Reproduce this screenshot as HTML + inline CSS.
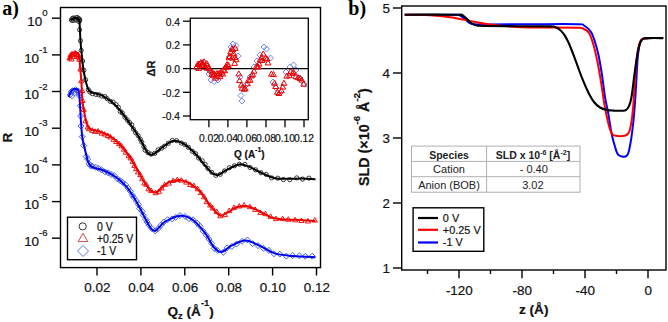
<!DOCTYPE html>
<html><head><meta charset="utf-8"><style>
html,body{margin:0;padding:0;background:#fff;}
body{width:668px;height:322px;overflow:hidden;font-family:"Liberation Sans", sans-serif;}
svg{display:block;}
</style></head><body>
<svg width="668" height="322" viewBox="0 0 668 322">
<rect width="668" height="322" fill="#fff"/>
<g fill="none" stroke="#000" stroke-width="1.4">
<rect x="60.5" y="7.5" width="260" height="260.1"/>
<line x1="52" y1="18.2" x2="60.5" y2="18.2"/>
<line x1="52" y1="54.9" x2="60.5" y2="54.9"/>
<line x1="52" y1="91.5" x2="60.5" y2="91.5"/>
<line x1="52" y1="128.2" x2="60.5" y2="128.2"/>
<line x1="52" y1="164.9" x2="60.5" y2="164.9"/>
<line x1="52" y1="201.6" x2="60.5" y2="201.6"/>
<line x1="52" y1="238.2" x2="60.5" y2="238.2"/>
<line x1="97.0" y1="267.6" x2="97.0" y2="275.5"/>
<line x1="140.9" y1="267.6" x2="140.9" y2="275.5"/>
<line x1="184.8" y1="267.6" x2="184.8" y2="275.5"/>
<line x1="228.7" y1="267.6" x2="228.7" y2="275.5"/>
<line x1="272.6" y1="267.6" x2="272.6" y2="275.5"/>
<line x1="316.5" y1="267.6" x2="316.5" y2="275.5"/>
</g>
<g font-family="'Liberation Sans', sans-serif" stroke="#111" stroke-width="0.2" fill="#111">
<text x="47.6" y="25.9" text-anchor="end" font-size="13.4">10<tspan font-size="9.6" dy="-9.6">0</tspan></text>
<text x="47.6" y="62.6" text-anchor="end" font-size="13.4">10<tspan font-size="9.6" dy="-9.6">-1</tspan></text>
<text x="47.6" y="99.2" text-anchor="end" font-size="13.4">10<tspan font-size="9.6" dy="-9.6">-2</tspan></text>
<text x="47.6" y="135.9" text-anchor="end" font-size="13.4">10<tspan font-size="9.6" dy="-9.6">-3</tspan></text>
<text x="47.6" y="172.6" text-anchor="end" font-size="13.4">10<tspan font-size="9.6" dy="-9.6">-4</tspan></text>
<text x="47.6" y="209.2" text-anchor="end" font-size="13.4">10<tspan font-size="9.6" dy="-9.6">-5</tspan></text>
<text x="47.6" y="245.9" text-anchor="end" font-size="13.4">10<tspan font-size="9.6" dy="-9.6">-6</tspan></text>
<text x="97.3" y="292.3" text-anchor="middle" font-size="13.4">0.02</text>
<text x="141.2" y="292.3" text-anchor="middle" font-size="13.4">0.04</text>
<text x="185.1" y="292.3" text-anchor="middle" font-size="13.4">0.06</text>
<text x="229.0" y="292.3" text-anchor="middle" font-size="13.4">0.08</text>
<text x="272.9" y="292.3" text-anchor="middle" font-size="13.4">0.10</text>
<text x="316.8" y="292.3" text-anchor="middle" font-size="13.4">0.12</text>
</g>
<g fill="none" stroke="#3050e0" stroke-width="0.9"><path d="M70.0 92.2L72.8 95.0L70.0 97.8L67.2 95.0Z"/><path d="M71.0 89.2L73.8 92.0L71.0 94.8L68.2 92.0Z"/><path d="M72.5 87.7L75.3 90.5L72.5 93.3L69.7 90.5Z"/><path d="M74.0 88.2L76.8 91.0L74.0 93.8L71.2 91.0Z"/><path d="M75.5 86.7L78.3 89.5L75.5 92.3L72.7 89.5Z"/><path d="M77.0 87.7L79.8 90.5L77.0 93.3L74.2 90.5Z"/><path d="M78.5 88.2L81.3 91.0L78.5 93.8L75.7 91.0Z"/><path d="M79.3 91.2L82.1 94.0L79.3 96.8L76.5 94.0Z"/><path d="M72.0 93.2L74.8 96.0L72.0 98.8L69.2 96.0Z"/><path d="M74.5 90.2L77.3 93.0L74.5 95.8L71.7 93.0Z"/><path d="M79.3 92.7L82.3 95.7L79.3 98.7L76.3 95.7Z"/><path d="M80.4 102.7L83.4 105.7L80.4 108.7L77.4 105.7Z"/><path d="M80.6 113.1L83.6 116.1L80.6 119.1L77.6 116.1Z"/><path d="M81.0 123.1L84.0 126.1L81.0 129.1L78.0 126.1Z"/><path d="M82.2 133.7L85.2 136.7L82.2 139.7L79.2 136.7Z"/><path d="M83.8 142.6L86.8 145.6L83.8 148.6L80.8 145.6Z"/><path d="M86.2 153.6L89.2 156.6L86.2 159.6L83.2 156.6Z"/><path d="M87.7 156.2L90.7 159.2L87.7 162.2L84.7 159.2Z"/><path d="M89.0 160.8L92.0 163.8L89.0 166.8L86.0 163.8Z"/><path d="M90.4 162.6L93.4 165.6L90.4 168.6L87.4 165.6Z"/><path d="M92.4 163.2L95.4 166.2L92.4 169.2L89.4 166.2Z"/><path d="M95.7 164.3L98.7 167.3L95.7 170.3L92.7 167.3Z"/><path d="M98.5 165.4L101.5 168.4L98.5 171.4L95.5 168.4Z"/><path d="M101.4 166.7L104.4 169.7L101.4 172.7L98.4 169.7Z"/><path d="M105.0 168.8L108.0 171.8L105.0 174.8L102.0 171.8Z"/><path d="M108.2 169.9L111.2 172.9L108.2 175.9L105.2 172.9Z"/><path d="M111.2 171.5L114.2 174.5L111.2 177.5L108.2 174.5Z"/><path d="M114.2 172.5L117.2 175.5L114.2 178.5L111.2 175.5Z"/><path d="M117.6 176.0L120.6 179.0L117.6 182.0L114.6 179.0Z"/><path d="M120.3 177.8L123.3 180.8L120.3 183.8L117.3 180.8Z"/><path d="M122.6 179.3L125.6 182.3L122.6 185.3L119.6 182.3Z"/><path d="M125.3 181.6L128.3 184.6L125.3 187.6L122.3 184.6Z"/><path d="M128.1 185.1L131.1 188.1L128.1 191.1L125.1 188.1Z"/><path d="M130.4 188.2L133.4 191.2L130.4 194.2L127.4 191.2Z"/><path d="M132.5 192.2L135.5 195.2L132.5 198.2L129.5 195.2Z"/><path d="M133.7 194.3L136.7 197.3L133.7 200.3L130.7 197.3Z"/><path d="M136.4 198.0L139.4 201.0L136.4 204.0L133.4 201.0Z"/><path d="M138.4 201.5L141.4 204.5L138.4 207.5L135.4 204.5Z"/><path d="M139.6 205.5L142.6 208.5L139.6 211.5L136.6 208.5Z"/><path d="M142.1 208.4L145.1 211.4L142.1 214.4L139.1 211.4Z"/><path d="M143.4 212.2L146.4 215.2L143.4 218.2L140.4 215.2Z"/><path d="M145.9 216.6L148.9 219.6L145.9 222.6L142.9 219.6Z"/><path d="M147.0 219.1L150.0 222.1L147.0 225.1L144.0 222.1Z"/><path d="M148.9 222.1L151.9 225.1L148.9 228.1L145.9 225.1Z"/><path d="M151.9 225.6L154.9 228.6L151.9 231.6L148.9 228.6Z"/><path d="M155.2 227.9L158.2 230.9L155.2 233.9L152.2 230.9Z"/><path d="M158.0 225.7L161.0 228.7L158.0 231.7L155.0 228.7Z"/><path d="M160.8 222.4L163.8 225.4L160.8 228.4L157.8 225.4Z"/><path d="M163.8 219.1L166.8 222.1L163.8 225.1L160.8 222.1Z"/><path d="M167.6 216.7L170.6 219.7L167.6 222.7L164.6 219.7Z"/><path d="M172.0 215.9L175.0 218.9L172.0 221.9L169.0 218.9Z"/><path d="M175.7 214.4L178.7 217.4L175.7 220.4L172.7 217.4Z"/><path d="M179.9 212.5L182.9 215.5L179.9 218.5L176.9 215.5Z"/><path d="M185.1 213.4L188.1 216.4L185.1 219.4L182.1 216.4Z"/><path d="M188.9 215.7L191.9 218.7L188.9 221.7L185.9 218.7Z"/><path d="M193.1 216.8L196.1 219.8L193.1 222.8L190.1 219.8Z"/><path d="M197.2 220.2L200.2 223.2L197.2 226.2L194.2 223.2Z"/><path d="M200.1 223.3L203.1 226.3L200.1 229.3L197.1 226.3Z"/><path d="M203.2 228.2L206.2 231.2L203.2 234.2L200.2 231.2Z"/><path d="M206.3 232.2L209.3 235.2L206.3 238.2L203.3 235.2Z"/><path d="M208.9 236.1L211.9 239.1L208.9 242.1L205.9 239.1Z"/><path d="M211.7 240.4L214.7 243.4L211.7 246.4L208.7 243.4Z"/><path d="M214.2 245.4L217.2 248.4L214.2 251.4L211.2 248.4Z"/><path d="M217.6 247.4L220.6 250.4L217.6 253.4L214.6 250.4Z"/><path d="M223.2 249.3L226.2 252.3L223.2 255.3L220.2 252.3Z"/><path d="M227.0 244.9L230.0 247.9L227.0 250.9L224.0 247.9Z"/><path d="M231.9 243.4L234.9 246.4L231.9 249.4L228.9 246.4Z"/><path d="M236.5 241.0L239.5 244.0L236.5 247.0L233.5 244.0Z"/><path d="M242.1 238.3L245.1 241.3L242.1 244.3L239.1 241.3Z"/><path d="M247.4 237.0L250.4 240.0L247.4 243.0L244.4 240.0Z"/><path d="M252.6 240.6L255.6 243.6L252.6 246.6L249.6 243.6Z"/><path d="M258.1 242.6L261.1 245.6L258.1 248.6L255.1 245.6Z"/><path d="M263.3 245.4L266.3 248.4L263.3 251.4L260.3 248.4Z"/><path d="M268.8 247.4L271.8 250.4L268.8 253.4L265.8 250.4Z"/><path d="M274.0 250.7L277.0 253.7L274.0 256.7L271.0 253.7Z"/><path d="M279.8 251.1L282.8 254.1L279.8 257.1L276.8 254.1Z"/><path d="M286.3 253.1L289.3 256.1L286.3 259.1L283.3 256.1Z"/><path d="M292.6 252.5L295.6 255.5L292.6 258.5L289.6 255.5Z"/><path d="M299.4 252.8L302.4 255.8L299.4 258.8L296.4 255.8Z"/><path d="M305.3 253.3L308.3 256.3L305.3 259.3L302.3 256.3Z"/><path d="M312.2 253.2L315.2 256.2L312.2 259.2L309.2 256.2Z"/></g>
<path d="M68.8 97.0C69.0 96.3 69.4 94.2 70.0 93.0C70.6 91.8 71.6 90.2 72.5 89.5C73.4 88.8 74.5 88.8 75.5 89.0C76.5 89.2 77.6 89.2 78.3 90.5C79.0 91.8 79.2 93.8 79.5 97.0C79.8 100.2 80.0 105.3 80.3 110.0C80.6 114.7 80.8 120.3 81.2 125.0C81.6 129.7 81.7 133.7 82.4 138.0C83.1 142.3 84.4 147.2 85.3 151.0C86.2 154.8 87.1 158.5 87.8 160.8C88.5 163.1 88.8 163.6 89.6 164.6C90.3 165.6 91.2 166.4 92.3 167.0C93.4 167.6 94.4 167.8 96.0 168.3C97.6 168.8 99.1 168.7 101.8 169.8C104.5 170.9 109.4 173.1 112.4 174.8C115.4 176.5 117.3 178.1 119.8 180.2C122.3 182.3 124.8 184.5 127.3 187.6C129.8 190.7 132.2 194.7 134.7 198.8C137.2 203.0 140.1 208.6 142.2 212.5C144.2 216.4 145.5 219.3 147.0 222.0C148.5 224.7 149.7 227.0 151.0 228.5C152.3 230.0 153.7 231.2 155.0 231.0C156.3 230.8 157.3 229.1 159.0 227.5C160.7 225.9 161.7 223.5 165.3 221.5C168.9 219.5 175.8 215.9 180.5 215.7C185.2 215.5 189.1 217.2 193.3 220.3C197.6 223.4 202.6 229.9 206.0 234.3C209.4 238.8 211.0 244.0 213.6 247.0C216.2 250.0 218.3 252.3 221.3 252.1C224.3 251.9 227.4 247.6 231.4 245.7C235.4 243.8 240.7 240.6 245.4 240.6C250.1 240.6 254.5 243.6 259.4 245.7C264.3 247.8 269.2 251.7 274.7 253.4C280.2 255.1 285.7 255.3 292.5 255.9C299.3 256.5 311.6 257.0 315.4 257.2" fill="none" stroke="#0000f0" stroke-width="2"/>
<g fill="none" stroke="#f00000" stroke-width="0.9"><path d="M69.5 55.4L72.1 60.0L66.9 60.0Z"/><path d="M70.5 52.4L73.1 57.0L67.9 57.0Z"/><path d="M72.0 51.4L74.6 56.0L69.4 56.0Z"/><path d="M73.5 51.9L76.1 56.5L70.9 56.5Z"/><path d="M75.0 50.4L77.6 55.0L72.4 55.0Z"/><path d="M76.5 51.4L79.1 56.0L73.9 56.0Z"/><path d="M78.0 51.9L80.6 56.5L75.4 56.5Z"/><path d="M79.0 54.4L81.6 59.0L76.4 59.0Z"/><path d="M71.5 56.4L74.1 61.0L68.9 61.0Z"/><path d="M74.0 53.9L76.6 58.5L71.4 58.5Z"/><path d="M77.0 53.4L79.6 58.0L74.4 58.0Z"/><path d="M79.2 56.7L81.8 61.2L76.6 61.2Z"/><path d="M80.4 66.4L83.0 71.0L77.8 71.0Z"/><path d="M81.2 78.2L83.8 82.7L78.6 82.7Z"/><path d="M82.2 88.0L84.8 92.5L79.6 92.5Z"/><path d="M82.6 98.0L85.2 102.5L80.0 102.5Z"/><path d="M83.6 106.8L86.2 111.4L81.0 111.4Z"/><path d="M85.4 118.4L88.0 122.9L82.8 122.9Z"/><path d="M87.8 124.4L90.4 129.0L85.2 129.0Z"/><path d="M89.1 126.2L91.7 130.7L86.5 130.7Z"/><path d="M92.2 127.7L94.8 132.3L89.6 132.3Z"/><path d="M95.1 128.8L97.7 133.4L92.5 133.4Z"/><path d="M98.1 128.6L100.7 133.2L95.5 133.2Z"/><path d="M101.6 130.6L104.2 135.1L99.0 135.1Z"/><path d="M104.6 131.5L107.2 136.0L102.0 136.0Z"/><path d="M107.8 133.0L110.4 137.5L105.2 137.5Z"/><path d="M110.4 134.3L113.0 138.9L107.8 138.9Z"/><path d="M113.7 136.8L116.3 141.3L111.1 141.3Z"/><path d="M116.2 139.0L118.8 143.5L113.6 143.5Z"/><path d="M119.2 141.0L121.8 145.6L116.6 145.6Z"/><path d="M121.5 143.3L124.1 147.9L118.9 147.9Z"/><path d="M123.8 146.6L126.4 151.1L121.2 151.1Z"/><path d="M125.7 149.6L128.3 154.2L123.1 154.2Z"/><path d="M128.6 153.1L131.2 157.7L126.0 157.7Z"/><path d="M130.6 155.3L133.2 159.9L128.0 159.9Z"/><path d="M132.6 158.9L135.2 163.4L130.0 163.4Z"/><path d="M134.4 162.8L137.0 167.4L131.8 167.4Z"/><path d="M136.0 166.0L138.6 170.6L133.4 170.6Z"/><path d="M138.0 169.3L140.6 173.8L135.4 173.8Z"/><path d="M140.2 172.0L142.8 176.6L137.6 176.6Z"/><path d="M142.3 176.1L144.9 180.7L139.7 180.7Z"/><path d="M144.3 180.3L146.9 184.8L141.7 184.8Z"/><path d="M146.2 181.7L148.8 186.3L143.6 186.3Z"/><path d="M148.5 186.2L151.1 190.8L145.9 190.8Z"/><path d="M151.2 188.1L153.8 192.6L148.6 192.6Z"/><path d="M155.7 190.1L158.3 194.7L153.1 194.7Z"/><path d="M158.9 188.8L161.5 193.3L156.3 193.3Z"/><path d="M161.7 185.4L164.3 190.0L159.1 190.0Z"/><path d="M164.7 182.1L167.3 186.6L162.1 186.6Z"/><path d="M168.8 180.6L171.4 185.1L166.2 185.1Z"/><path d="M173.1 178.0L175.7 182.5L170.5 182.5Z"/><path d="M177.3 177.0L179.9 181.5L174.7 181.5Z"/><path d="M181.3 177.6L183.9 182.1L178.7 182.1Z"/><path d="M186.2 179.6L188.8 184.1L183.6 184.1Z"/><path d="M190.2 181.9L192.8 186.5L187.6 186.5Z"/><path d="M193.8 183.0L196.4 187.6L191.2 187.6Z"/><path d="M197.7 186.2L200.3 190.8L195.1 190.8Z"/><path d="M200.9 190.1L203.5 194.6L198.3 194.6Z"/><path d="M204.1 194.3L206.7 198.8L201.5 198.8Z"/><path d="M206.6 199.1L209.2 203.7L204.0 203.7Z"/><path d="M210.1 202.5L212.7 207.0L207.5 207.0Z"/><path d="M212.6 205.4L215.2 209.9L210.0 209.9Z"/><path d="M216.7 209.0L219.3 213.5L214.1 213.5Z"/><path d="M220.3 213.3L222.9 217.8L217.7 217.8Z"/><path d="M224.9 212.0L227.5 216.6L222.3 216.6Z"/><path d="M229.2 208.0L231.8 212.6L226.6 212.6Z"/><path d="M234.0 204.9L236.6 209.4L231.4 209.4Z"/><path d="M239.3 203.5L241.9 208.0L236.7 208.0Z"/><path d="M244.1 202.5L246.7 207.1L241.5 207.1Z"/><path d="M249.9 204.2L252.5 208.7L247.3 208.7Z"/><path d="M255.1 206.8L257.7 211.4L252.5 211.4Z"/><path d="M260.4 210.0L263.0 214.6L257.8 214.6Z"/><path d="M265.5 211.2L268.1 215.7L262.9 215.7Z"/><path d="M270.6 213.8L273.2 218.3L268.0 218.3Z"/><path d="M276.0 216.1L278.6 220.6L273.4 220.6Z"/><path d="M282.6 216.1L285.2 220.6L280.0 220.6Z"/><path d="M288.3 216.7L290.9 221.3L285.7 221.3Z"/><path d="M295.1 217.3L297.7 221.8L292.5 221.8Z"/><path d="M301.4 218.0L304.0 222.5L298.8 222.5Z"/><path d="M307.9 218.4L310.5 223.0L305.3 223.0Z"/><path d="M314.8 217.5L317.4 222.1L312.2 222.1Z"/></g>
<path d="M68.8 60.0C69.0 59.3 69.4 57.2 70.0 56.0C70.6 54.8 71.6 53.6 72.5 53.0C73.4 52.4 74.5 52.4 75.5 52.6C76.5 52.8 77.6 52.8 78.3 54.0C79.0 55.2 79.1 57.0 79.5 60.0C79.9 63.0 80.2 68.7 80.5 72.0C80.8 75.3 81.0 75.3 81.3 80.0C81.6 84.7 81.9 94.5 82.4 100.0C82.9 105.5 83.8 109.7 84.4 113.0C85.0 116.3 85.3 118.0 85.8 120.0C86.3 122.0 86.6 123.6 87.2 125.0C87.8 126.4 88.4 127.5 89.2 128.3C90.0 129.1 90.5 129.4 92.0 129.8C93.5 130.2 96.0 130.4 98.0 131.0C100.0 131.6 102.0 132.7 104.0 133.5C106.0 134.3 107.2 134.3 109.9 136.1C112.6 137.9 116.6 141.0 119.9 144.5C123.2 148.0 126.9 153.0 129.8 157.2C132.7 161.4 134.9 165.7 137.2 169.6C139.5 173.5 141.3 177.5 143.4 180.8C145.5 184.1 148.0 187.7 149.6 189.6C151.2 191.5 151.8 191.6 153.0 192.0C154.2 192.4 155.3 192.6 156.5 192.2C157.7 191.8 158.8 190.7 160.0 189.6C161.2 188.5 162.4 186.9 164.0 185.6C165.6 184.3 167.3 182.8 169.8 181.8C172.3 180.9 176.0 179.8 179.1 179.9C182.2 180.1 185.0 180.8 188.4 182.7C191.8 184.6 196.2 187.5 199.6 191.1C203.0 194.7 206.1 200.5 208.9 204.1C211.7 207.7 214.4 210.6 216.4 212.5C218.4 214.4 218.8 215.9 220.8 215.8C222.8 215.8 225.6 213.6 228.2 212.2C230.8 210.8 233.4 208.3 236.4 207.3C239.4 206.3 243.3 205.8 246.3 206.1C249.3 206.4 251.5 207.6 254.5 208.9C257.5 210.2 261.1 212.3 264.4 213.9C267.7 215.5 270.4 217.4 274.3 218.3C278.2 219.2 283.1 219.3 287.5 219.6C291.9 219.9 296.0 219.8 300.6 220.0C305.2 220.2 312.9 220.8 315.4 221.0" fill="none" stroke="#ee0000" stroke-width="2"/>
<g fill="none" stroke="#222" stroke-width="0.9"><circle cx="71.5" cy="20.0" r="2.2"/><circle cx="72.5" cy="18.5" r="2.2"/><circle cx="74.0" cy="18.0" r="2.2"/><circle cx="75.5" cy="19.0" r="2.2"/><circle cx="77.0" cy="17.5" r="2.2"/><circle cx="78.5" cy="18.5" r="2.2"/><circle cx="79.5" cy="19.5" r="2.2"/><circle cx="73.0" cy="20.5" r="2.2"/><circle cx="76.0" cy="20.0" r="2.2"/><circle cx="79.0" cy="21.5" r="2.2"/><circle cx="79.6" cy="20.3" r="2.1"/><circle cx="79.6" cy="29.8" r="2.1"/><circle cx="80.5" cy="40.8" r="2.1"/><circle cx="81.2" cy="50.4" r="2.1"/><circle cx="82.6" cy="61.0" r="2.1"/><circle cx="83.9" cy="70.3" r="2.1"/><circle cx="85.6" cy="79.8" r="2.1"/><circle cx="88.3" cy="89.7" r="2.1"/><circle cx="89.9" cy="92.0" r="2.1"/><circle cx="92.4" cy="93.7" r="2.1"/><circle cx="96.0" cy="94.4" r="2.1"/><circle cx="98.8" cy="94.8" r="2.1"/><circle cx="101.7" cy="96.1" r="2.1"/><circle cx="104.9" cy="96.6" r="2.1"/><circle cx="107.2" cy="98.7" r="2.1"/><circle cx="110.4" cy="101.4" r="2.1"/><circle cx="113.1" cy="102.1" r="2.1"/><circle cx="116.0" cy="104.6" r="2.1"/><circle cx="118.4" cy="107.4" r="2.1"/><circle cx="120.3" cy="111.4" r="2.1"/><circle cx="122.3" cy="113.0" r="2.1"/><circle cx="124.9" cy="117.1" r="2.1"/><circle cx="127.3" cy="120.0" r="2.1"/><circle cx="129.6" cy="122.6" r="2.1"/><circle cx="131.8" cy="124.9" r="2.1"/><circle cx="133.4" cy="129.0" r="2.1"/><circle cx="135.6" cy="132.7" r="2.1"/><circle cx="138.1" cy="135.6" r="2.1"/><circle cx="140.3" cy="139.1" r="2.1"/><circle cx="141.8" cy="142.2" r="2.1"/><circle cx="143.9" cy="146.7" r="2.1"/><circle cx="145.2" cy="150.2" r="2.1"/><circle cx="148.0" cy="152.7" r="2.1"/><circle cx="151.0" cy="154.1" r="2.1"/><circle cx="154.7" cy="153.4" r="2.1"/><circle cx="158.1" cy="149.9" r="2.1"/><circle cx="161.6" cy="148.2" r="2.1"/><circle cx="164.5" cy="146.2" r="2.1"/><circle cx="168.3" cy="143.3" r="2.1"/><circle cx="172.3" cy="140.4" r="2.1"/><circle cx="176.6" cy="140.7" r="2.1"/><circle cx="181.3" cy="143.1" r="2.1"/><circle cx="184.8" cy="144.6" r="2.1"/><circle cx="188.4" cy="147.4" r="2.1"/><circle cx="192.4" cy="151.4" r="2.1"/><circle cx="195.6" cy="153.7" r="2.1"/><circle cx="198.6" cy="158.0" r="2.1"/><circle cx="202.2" cy="160.8" r="2.1"/><circle cx="205.1" cy="164.3" r="2.1"/><circle cx="207.9" cy="168.5" r="2.1"/><circle cx="211.8" cy="172.3" r="2.1"/><circle cx="215.8" cy="175.3" r="2.1"/><circle cx="220.3" cy="174.3" r="2.1"/><circle cx="224.5" cy="170.9" r="2.1"/><circle cx="229.3" cy="167.7" r="2.1"/><circle cx="234.4" cy="165.8" r="2.1"/><circle cx="239.3" cy="164.2" r="2.1"/><circle cx="244.9" cy="164.4" r="2.1"/><circle cx="250.0" cy="167.5" r="2.1"/><circle cx="255.6" cy="169.8" r="2.1"/><circle cx="260.9" cy="172.7" r="2.1"/><circle cx="266.2" cy="174.4" r="2.1"/><circle cx="271.6" cy="177.9" r="2.1"/><circle cx="277.8" cy="178.2" r="2.1"/><circle cx="283.5" cy="179.6" r="2.1"/><circle cx="289.8" cy="179.7" r="2.1"/><circle cx="296.7" cy="177.9" r="2.1"/><circle cx="302.5" cy="179.1" r="2.1"/><circle cx="309.0" cy="178.1" r="2.1"/></g>
<path d="M71.0 20.5C71.2 20.2 71.8 19.2 72.5 18.8C73.2 18.4 74.2 18.1 75.0 18.0C75.8 17.9 76.8 17.9 77.5 18.2C78.2 18.5 78.8 18.5 79.2 19.6C79.6 20.7 79.5 21.6 79.7 25.0C79.9 28.4 80.1 35.0 80.4 40.0C80.8 45.0 81.3 50.3 81.8 55.0C82.3 59.7 82.6 64.0 83.2 68.0C83.8 72.0 84.5 75.9 85.2 79.0C85.9 82.1 86.6 84.6 87.2 86.5C87.8 88.4 88.2 89.3 88.8 90.3C89.4 91.3 89.8 91.9 91.0 92.4C92.2 93.0 94.4 93.1 96.2 93.6C98.0 94.1 99.6 94.2 101.8 95.3C104.0 96.4 106.7 98.2 109.2 100.0C111.7 101.8 114.2 103.8 116.7 106.4C119.2 109.0 121.6 112.4 124.1 115.7C126.6 119.0 128.8 122.0 131.6 126.0C134.3 130.0 138.3 136.0 140.6 139.9C142.9 143.8 144.0 147.1 145.3 149.3C146.6 151.6 147.3 152.5 148.3 153.4C149.3 154.3 150.2 154.7 151.3 154.7C152.4 154.7 153.4 154.2 154.8 153.3C156.2 152.5 157.8 150.9 159.5 149.6C161.2 148.3 162.4 147.0 164.8 145.5C167.2 144.0 171.0 141.1 174.1 140.8C177.2 140.5 180.0 141.6 183.4 143.6C186.8 145.6 191.2 149.6 194.6 153.0C198.0 156.4 201.3 161.0 203.9 164.1C206.5 167.2 208.7 169.8 210.4 171.5C212.1 173.2 212.8 173.6 214.0 174.2C215.2 174.8 216.3 175.3 217.5 175.2C218.7 175.1 219.8 174.3 221.0 173.6C222.2 172.9 221.8 172.4 224.8 170.9C227.8 169.4 234.9 165.0 239.1 164.4C243.3 163.8 246.0 165.6 249.9 167.1C253.8 168.6 258.3 171.6 262.5 173.4C266.7 175.2 270.5 177.3 275.0 178.2C279.5 179.1 284.9 178.6 289.4 178.7C293.9 178.8 297.6 178.5 302.0 178.6C306.4 178.7 313.2 179.2 315.5 179.3" fill="none" stroke="#000" stroke-width="2"/>
<rect x="67.5" y="217.2" width="69" height="42.5" fill="#fff" stroke="#000" stroke-width="1.4"/>
<circle cx="82.7" cy="226.4" r="3.6" fill="none" stroke="#333" stroke-width="1"/>
<path d="M83 233.2 L87.8 241.6 L78.2 241.6 Z" fill="none" stroke="#d04848" stroke-width="1"/>
<path d="M83 245.5 L88.5 251 L83 256.5 L77.5 251 Z" fill="none" stroke="#5a78d0" stroke-width="1"/>
<g font-family="'Liberation Sans', sans-serif" stroke="#111" stroke-width="0.2" fill="#111" font-size="12">
<text transform="translate(97 231) scale(0.87 1)">0 V</text>
<text transform="translate(97 242.6) scale(0.87 1)">+0.25 V</text>
<text transform="translate(97 254.6) scale(0.87 1)">-1 V</text>
</g>
<g font-family="'Liberation Sans', sans-serif" stroke="#111" stroke-width="0.2" fill="#111" font-weight="bold">
<text x="167.5" y="316" font-size="13.6">Q<tspan font-size="9.4" dy="2.5">z</tspan><tspan dy="-2.5"> (Å</tspan><tspan font-size="9.4" dy="-9.8">-1</tspan><tspan dy="9.8">)</tspan></text>
<text transform="translate(12 137.7) rotate(-90)" text-anchor="middle" font-size="13.6">R</text>
</g>
<text x="2.2" y="15.2" font-family="'Liberation Serif', serif" font-weight="bold" font-size="20">a)</text>
<rect x="190.3" y="18.2" width="118" height="101.5" fill="#fff" stroke="#000" stroke-width="1.3"/>
<g fill="none" stroke="#000" stroke-width="1.3">
<line x1="183" y1="21.2" x2="190.3" y2="21.2"/>
<line x1="183" y1="44.9" x2="190.3" y2="44.9"/>
<line x1="183" y1="68.6" x2="190.3" y2="68.6"/>
<line x1="183" y1="92.3" x2="190.3" y2="92.3"/>
<line x1="183" y1="116.0" x2="190.3" y2="116.0"/>
<line x1="208.9" y1="119.7" x2="208.9" y2="127.2"/>
<line x1="227.9" y1="119.7" x2="227.9" y2="127.2"/>
<line x1="246.9" y1="119.7" x2="246.9" y2="127.2"/>
<line x1="266.0" y1="119.7" x2="266.0" y2="127.2"/>
<line x1="285.0" y1="119.7" x2="285.0" y2="127.2"/>
<line x1="304.0" y1="119.7" x2="304.0" y2="127.2"/>
</g>
<g font-family="'Liberation Sans', sans-serif" stroke="#111" stroke-width="0.2" fill="#111" font-size="10.3">
<text x="180" y="25.5" text-anchor="end">0.4</text>
<text x="180" y="49.2" text-anchor="end">0.2</text>
<text x="180" y="72.9" text-anchor="end">0.0</text>
<text x="180" y="96.6" text-anchor="end">-0.2</text>
<text x="180" y="120.3" text-anchor="end">-0.4</text>
<text x="208.9" y="141.6" text-anchor="middle">0.02</text>
<text x="227.9" y="141.6" text-anchor="middle">0.04</text>
<text x="246.9" y="141.6" text-anchor="middle">0.06</text>
<text x="266.0" y="141.6" text-anchor="middle">0.08</text>
<text x="285.0" y="141.6" text-anchor="middle">0.10</text>
<text x="304.0" y="141.6" text-anchor="middle">0.12</text>
</g>
<g font-family="'Liberation Sans', sans-serif" stroke="#111" stroke-width="0.2" fill="#111" font-weight="bold" font-size="10">
<text x="234" y="158.2">Q (A<tspan font-size="7" dy="-6">-1</tspan><tspan dy="6">)</tspan></text>
<text transform="translate(154.6 68.5) rotate(-90)" text-anchor="middle" font-size="11">ΔR</text>
</g>
<g fill="none" stroke="#7888ee" stroke-width="1"><path d="M197.0 65.0L200.0 68.0L197.0 71.0L194.0 68.0Z"/><path d="M201.0 61.0L204.0 64.0L201.0 67.0L198.0 64.0Z"/><path d="M205.0 65.0L208.0 68.0L205.0 71.0L202.0 68.0Z"/><path d="M209.0 71.0L212.0 74.0L209.0 77.0L206.0 74.0Z"/><path d="M211.0 77.0L214.0 80.0L211.0 83.0L208.0 80.0Z"/><path d="M214.0 78.5L217.0 81.5L214.0 84.5L211.0 81.5Z"/><path d="M218.0 77.0L221.0 80.0L218.0 83.0L215.0 80.0Z"/><path d="M222.0 71.0L225.0 74.0L222.0 77.0L219.0 74.0Z"/><path d="M226.0 64.0L229.0 67.0L226.0 70.0L223.0 67.0Z"/><path d="M229.0 54.0L232.0 57.0L229.0 60.0L226.0 57.0Z"/><path d="M231.0 44.0L234.0 47.0L231.0 50.0L228.0 47.0Z"/><path d="M233.0 41.0L236.0 44.0L233.0 47.0L230.0 44.0Z"/><path d="M236.0 42.5L239.0 45.5L236.0 48.5L233.0 45.5Z"/><path d="M238.0 53.0L241.0 56.0L238.0 59.0L235.0 56.0Z"/><path d="M240.0 74.0L243.0 77.0L240.0 80.0L237.0 77.0Z"/><path d="M241.0 92.5L244.0 95.5L241.0 98.5L238.0 95.5Z"/><path d="M242.0 98.0L245.0 101.0L242.0 104.0L239.0 101.0Z"/><path d="M246.0 82.0L249.0 85.0L246.0 88.0L243.0 85.0Z"/><path d="M250.0 74.0L253.0 77.0L250.0 80.0L247.0 77.0Z"/><path d="M254.0 64.0L257.0 67.0L254.0 70.0L251.0 67.0Z"/><path d="M257.0 58.0L260.0 61.0L257.0 64.0L254.0 61.0Z"/><path d="M260.0 52.0L263.0 55.0L260.0 58.0L257.0 55.0Z"/><path d="M264.0 44.0L267.0 47.0L264.0 50.0L261.0 47.0Z"/><path d="M266.5 46.0L269.5 49.0L266.5 52.0L263.5 49.0Z"/><path d="M270.5 55.0L273.5 58.0L270.5 61.0L267.5 58.0Z"/><path d="M273.0 79.0L276.0 82.0L273.0 85.0L270.0 82.0Z"/><path d="M276.0 85.0L279.0 88.0L276.0 91.0L273.0 88.0Z"/><path d="M280.0 90.0L283.0 93.0L280.0 96.0L277.0 93.0Z"/><path d="M286.0 69.0L289.0 72.0L286.0 75.0L283.0 72.0Z"/><path d="M290.0 64.0L293.0 67.0L290.0 70.0L287.0 67.0Z"/><path d="M293.5 62.0L296.5 65.0L293.5 68.0L290.5 65.0Z"/><path d="M296.0 67.0L299.0 70.0L296.0 73.0L293.0 70.0Z"/><path d="M300.0 75.0L303.0 78.0L300.0 81.0L297.0 78.0Z"/><path d="M304.0 81.0L307.0 84.0L304.0 87.0L301.0 84.0Z"/></g>
<line x1="190.3" y1="68.6" x2="308.3" y2="68.6" stroke="#000" stroke-width="1.4"/>
<g fill="none" stroke="#e80000" stroke-width="1" stroke-linejoin="round"><path d="M196.6 63.8L199.5 68.9L193.7 68.9Z"/><path d="M197.8 61.4L200.7 66.5L194.9 66.5Z"/><path d="M198.7 65.4L201.6 70.4L195.8 70.4Z"/><path d="M199.0 61.0L201.9 66.1L196.1 66.1Z"/><path d="M200.9 59.5L203.8 64.6L198.0 64.6Z"/><path d="M201.9 61.9L204.8 67.0L199.0 67.0Z"/><path d="M202.5 59.8L205.4 64.9L199.6 64.9Z"/><path d="M203.5 62.3L206.4 67.4L200.6 67.4Z"/><path d="M204.0 58.8L206.9 63.8L201.1 63.8Z"/><path d="M205.3 64.3L208.2 69.4L202.4 69.4Z"/><path d="M206.8 60.6L209.7 65.7L203.9 65.7Z"/><path d="M207.8 63.0L210.7 68.1L204.9 68.1Z"/><path d="M208.6 65.0L211.5 70.1L205.7 70.1Z"/><path d="M209.0 65.2L211.9 70.3L206.1 70.3Z"/><path d="M210.2 67.2L213.1 72.3L207.3 72.3Z"/><path d="M212.0 71.2L214.9 76.3L209.1 76.3Z"/><path d="M212.3 69.0L215.2 74.1L209.4 74.1Z"/><path d="M213.5 72.6L216.4 77.7L210.6 77.7Z"/><path d="M214.2 70.9L217.1 76.0L211.3 76.0Z"/><path d="M215.7 75.0L218.6 80.1L212.8 80.1Z"/><path d="M216.9 70.5L219.8 75.6L214.0 75.6Z"/><path d="M217.4 73.1L220.3 78.2L214.5 78.2Z"/><path d="M218.1 70.8L221.0 75.9L215.2 75.9Z"/><path d="M219.3 70.4L222.2 75.5L216.4 75.5Z"/><path d="M220.0 73.6L222.9 78.7L217.1 78.7Z"/><path d="M221.3 69.0L224.2 74.1L218.4 74.1Z"/><path d="M222.8 71.0L225.7 76.1L219.9 76.1Z"/><path d="M223.3 67.0L226.2 72.1L220.4 72.1Z"/><path d="M224.7 67.8L227.6 72.8L221.8 72.8Z"/><path d="M226.0 63.7L228.9 68.7L223.1 68.7Z"/><path d="M226.7 64.1L229.6 69.2L223.8 69.2Z"/><path d="M227.0 61.5L229.9 66.5L224.1 66.5Z"/><path d="M228.4 62.3L231.3 67.4L225.5 67.4Z"/><path d="M229.0 54.7L231.9 59.8L226.1 59.8Z"/><path d="M229.7 53.5L232.6 58.5L226.8 58.5Z"/><path d="M230.7 48.9L233.6 53.9L227.8 53.9Z"/><path d="M231.9 45.9L234.8 51.0L229.0 51.0Z"/><path d="M232.8 46.7L235.7 51.7L229.9 51.7Z"/><path d="M232.5 54.9L235.4 60.0L229.6 60.0Z"/><path d="M233.6 50.8L236.5 55.9L230.7 55.9Z"/><path d="M235.3 45.2L238.2 50.3L232.4 50.3Z"/><path d="M235.0 54.4L237.9 59.5L232.1 59.5Z"/><path d="M236.1 56.6L239.0 61.7L233.2 61.7Z"/><path d="M234.6 60.4L237.5 65.4L231.7 65.4Z"/><path d="M238.8 70.9L241.7 75.9L235.9 75.9Z"/><path d="M239.5 77.5L242.4 82.6L236.6 82.6Z"/><path d="M241.3 82.1L244.2 87.2L238.4 87.2Z"/><path d="M242.1 85.0L245.0 90.1L239.2 90.1Z"/><path d="M244.2 86.1L247.1 91.2L241.3 91.2Z"/><path d="M245.2 85.7L248.1 90.8L242.3 90.8Z"/><path d="M247.5 80.7L250.4 85.8L244.6 85.8Z"/><path d="M248.4 77.3L251.3 82.4L245.5 82.4Z"/><path d="M250.1 77.1L253.0 82.2L247.2 82.2Z"/><path d="M251.5 72.9L254.4 77.9L248.6 77.9Z"/><path d="M252.6 71.3L255.5 76.4L249.7 76.4Z"/><path d="M254.0 68.1L256.9 73.2L251.1 73.2Z"/><path d="M256.3 63.5L259.2 68.6L253.4 68.6Z"/><path d="M257.7 63.4L260.6 68.5L254.8 68.5Z"/><path d="M259.1 61.0L262.0 66.0L256.2 66.0Z"/><path d="M260.1 56.9L263.0 62.0L257.2 62.0Z"/><path d="M261.6 54.6L264.5 59.7L258.7 59.7Z"/><path d="M263.3 51.0L266.2 56.0L260.4 56.0Z"/><path d="M265.5 55.2L268.4 60.2L262.6 60.2Z"/><path d="M267.0 56.0L269.9 61.0L264.1 61.0Z"/><path d="M268.0 59.8L270.9 64.9L265.1 64.9Z"/><path d="M262.0 57.5L264.9 62.5L259.1 62.5Z"/><path d="M257.9 64.0L260.8 69.1L255.0 69.1Z"/><path d="M271.4 71.1L274.3 76.1L268.5 76.1Z"/><path d="M273.5 71.5L276.4 76.6L270.6 76.6Z"/><path d="M274.5 80.1L277.4 85.2L271.6 85.2Z"/><path d="M275.6 83.4L278.5 88.5L272.7 88.5Z"/><path d="M277.3 89.2L280.2 94.3L274.4 94.3Z"/><path d="M278.9 90.5L281.8 95.5L276.0 95.5Z"/><path d="M281.3 87.7L284.2 92.8L278.4 92.8Z"/><path d="M282.7 83.9L285.6 89.0L279.8 89.0Z"/><path d="M283.9 80.2L286.8 85.3L281.0 85.3Z"/><path d="M286.8 73.1L289.7 78.1L283.9 78.1Z"/><path d="M289.3 72.7L292.2 77.7L286.4 77.7Z"/><path d="M290.8 68.4L293.7 73.5L287.9 73.5Z"/><path d="M292.6 70.3L295.5 75.4L289.7 75.4Z"/><path d="M293.5 69.2L296.4 74.3L290.6 74.3Z"/><path d="M295.8 73.6L298.7 78.7L292.9 78.7Z"/><path d="M298.0 74.6L300.9 79.6L295.1 79.6Z"/><path d="M300.1 75.5L303.0 80.6L297.2 80.6Z"/><path d="M301.8 77.0L304.7 82.1L298.9 82.1Z"/><path d="M303.7 81.1L306.6 86.2L300.8 86.2Z"/></g>
<g fill="none" stroke="#000" stroke-width="1.4">
<rect x="401.7" y="6" width="264.3" height="264"/>
<line x1="393" y1="8.0" x2="401.7" y2="8.0"/>
<line x1="393" y1="73.0" x2="401.7" y2="73.0"/>
<line x1="393" y1="138.0" x2="401.7" y2="138.0"/>
<line x1="393" y1="203.0" x2="401.7" y2="203.0"/>
<line x1="393" y1="268.0" x2="401.7" y2="268.0"/>
<line x1="459.0" y1="270" x2="459.0" y2="278.3"/>
<line x1="522.0" y1="270" x2="522.0" y2="278.3"/>
<line x1="585.0" y1="270" x2="585.0" y2="278.3"/>
<line x1="648.0" y1="270" x2="648.0" y2="278.3"/>
<line x1="427.5" y1="270" x2="427.5" y2="274"/>
<line x1="490.5" y1="270" x2="490.5" y2="274"/>
<line x1="553.5" y1="270" x2="553.5" y2="274"/>
<line x1="616.5" y1="270" x2="616.5" y2="274"/>
</g>
<g font-family="'Liberation Sans', sans-serif" stroke="#111" stroke-width="0.2" fill="#111" font-size="13.4">
<text x="390" y="12.6" text-anchor="end">5</text>
<text x="390" y="77.6" text-anchor="end">4</text>
<text x="390" y="142.6" text-anchor="end">3</text>
<text x="390" y="207.6" text-anchor="end">2</text>
<text x="390" y="272.6" text-anchor="end">1</text>
<text x="459.3" y="295.4" text-anchor="middle">-120</text>
<text x="522.3" y="295.4" text-anchor="middle">-80</text>
<text x="585.3" y="295.4" text-anchor="middle">-40</text>
<text x="648.3" y="295.4" text-anchor="middle">0</text>
</g>
<g font-family="'Liberation Sans', sans-serif" stroke="#111" stroke-width="0.2" fill="#111" font-weight="bold" font-size="13.6">
<text x="519" y="314.4">z (Å)</text>
<text transform="translate(368.9 186) rotate(-90)" font-size="14.3">SLD (×10<tspan font-size="9.6" dy="-9">-6</tspan><tspan dy="9"> Å</tspan><tspan font-size="9.6" dy="-9">-2</tspan><tspan dy="9">)</tspan></text>
</g>
<text x="348.3" y="15.2" font-family="'Liberation Serif', serif" font-weight="bold" font-size="20">b)</text>
<path d="M404.7 14.7C413.2 14.7 446.8 14.6 456.0 14.7C465.2 14.8 458.7 14.9 460.0 15.5C461.3 16.1 462.7 17.4 464.0 18.5C465.3 19.6 466.7 21.1 468.0 22.0C469.3 22.9 470.2 23.6 472.0 24.0C473.8 24.4 476.0 24.4 479.0 24.5C482.0 24.6 481.5 24.4 490.0 24.4C498.5 24.3 515.5 24.2 530.0 24.2C544.5 24.2 568.0 24.0 577.0 24.2C586.0 24.4 581.7 24.2 584.0 25.5C586.3 26.8 589.2 29.2 591.0 32.0C592.8 34.8 593.8 38.2 595.0 42.0C596.2 45.8 597.3 49.5 598.5 55.0C599.7 60.5 600.9 68.0 602.0 75.0C603.1 82.0 604.0 90.8 605.0 97.0C606.0 103.2 606.9 106.0 608.0 112.0C609.1 118.0 610.4 127.5 611.5 133.0C612.6 138.5 613.3 141.3 614.5 145.0C615.7 148.7 616.4 153.2 618.5 155.0C620.6 156.8 625.0 157.5 627.0 155.5C629.0 153.5 629.5 148.1 630.5 143.0C631.5 137.9 632.3 130.8 633.0 125.0C633.7 119.2 634.1 113.8 634.6 108.0C635.1 102.2 635.4 96.0 635.8 90.0C636.2 84.0 636.5 77.5 636.8 72.0C637.1 66.5 637.4 61.3 637.8 57.0C638.2 52.7 638.7 48.8 639.2 46.0C639.7 43.2 640.2 41.8 641.0 40.5C641.8 39.2 642.5 38.9 644.0 38.5C645.5 38.1 646.8 38.2 650.0 38.1C653.2 38.0 661.0 38.1 663.2 38.1" fill="none" stroke="#0000ff" stroke-width="2"/>
<path d="M404.7 14.7C407.2 14.7 414.1 14.6 420.0 14.8C425.9 15.0 434.2 15.5 440.0 16.0C445.8 16.5 450.0 17.2 455.0 18.0C460.0 18.8 464.2 19.9 470.0 21.0C475.8 22.1 483.3 23.6 490.0 24.5C496.7 25.4 503.3 26.0 510.0 26.5C516.7 27.0 519.2 27.3 530.0 27.5C540.8 27.7 566.2 27.5 575.0 27.7C583.8 27.9 580.7 27.6 583.0 28.5C585.3 29.4 587.2 30.2 589.0 33.0C590.8 35.8 592.1 40.2 593.5 45.0C594.9 49.8 596.2 55.8 597.5 62.0C598.8 68.2 599.8 74.8 601.0 82.0C602.2 89.2 603.3 98.3 604.5 105.0C605.7 111.7 606.9 117.5 608.0 122.0C609.1 126.5 609.9 129.8 611.0 132.0C612.1 134.2 612.1 134.9 614.5 135.5C616.9 136.1 623.0 136.2 625.5 135.5C628.0 134.8 628.4 133.9 629.5 131.0C630.6 128.1 631.4 122.3 632.0 118.0C632.6 113.7 632.9 109.7 633.3 105.0C633.7 100.3 634.0 95.0 634.3 90.0C634.6 85.0 634.9 80.3 635.3 75.0C635.7 69.7 636.3 62.7 636.8 58.0C637.3 53.3 637.9 49.8 638.5 47.0C639.1 44.2 639.7 42.4 640.5 41.0C641.3 39.6 641.9 39.0 643.5 38.5C645.1 38.0 646.7 38.2 650.0 38.1C653.3 38.0 661.0 38.1 663.2 38.1" fill="none" stroke="#ff0000" stroke-width="2"/>
<path d="M404.7 14.7C413.4 14.7 447.4 14.6 457.0 14.7C466.6 14.8 460.5 14.8 462.0 15.3C463.5 15.9 464.7 16.9 466.0 18.0C467.3 19.1 468.7 20.9 470.0 22.0C471.3 23.1 472.7 24.0 474.0 24.6C475.3 25.2 476.2 25.5 478.0 25.7C479.8 25.9 478.0 25.9 485.0 26.0C492.0 26.1 509.2 26.1 520.0 26.2C530.8 26.3 544.2 26.3 550.0 26.4C555.8 26.5 553.4 26.5 555.0 27.0C556.6 27.5 558.0 28.3 559.5 29.5C561.0 30.7 562.5 32.3 563.7 34.0C565.0 35.7 566.0 37.5 567.0 39.5C568.0 41.5 568.5 42.3 570.0 46.0C571.5 49.7 574.0 56.1 576.0 61.6C578.0 67.0 580.2 73.5 582.3 78.7C584.4 83.9 586.5 88.8 588.5 92.7C590.5 96.6 592.1 99.5 594.0 102.0C595.9 104.5 597.8 106.2 600.0 107.5C602.2 108.8 604.8 109.5 607.0 110.0C609.2 110.5 610.5 110.5 613.5 110.6C616.5 110.7 622.4 111.2 625.0 110.4C627.6 109.6 627.9 108.2 629.0 106.0C630.1 103.8 630.7 101.7 631.5 97.0C632.3 92.3 633.2 84.2 634.0 78.0C634.8 71.8 635.8 64.8 636.5 60.0C637.2 55.2 637.8 52.0 638.5 49.0C639.2 46.0 639.7 43.8 640.5 42.0C641.3 40.2 641.9 39.1 643.5 38.5C645.1 37.9 646.7 38.2 650.0 38.1C653.3 38.0 661.0 38.1 663.2 38.1" fill="none" stroke="#000" stroke-width="2.1"/>
<rect x="411.5" y="146.1" width="168.5" height="46.1" fill="#fff" stroke="#b0b0b0" stroke-width="1"/>
<line x1="411.5" y1="161.4" x2="580" y2="161.4" stroke="#b0b0b0" stroke-width="1"/>
<line x1="411.5" y1="176.7" x2="580" y2="176.7" stroke="#b0b0b0" stroke-width="1"/>
<line x1="486.6" y1="146.1" x2="486.6" y2="192.2" stroke="#b0b0b0" stroke-width="1"/>
<g font-family="'Liberation Sans', sans-serif" fill="#222" font-size="11">
<text x="449" y="158.5" text-anchor="middle" font-weight="bold" font-size="10.5">Species</text>
<text x="533" y="158.5" text-anchor="middle" font-weight="bold" font-size="10.5">SLD x 10<tspan font-size="7" dy="-4">-6</tspan><tspan dy="4"> [Å</tspan><tspan font-size="7" dy="-4">-2</tspan><tspan dy="4">]</tspan></text>
<text x="449" y="173.2" text-anchor="middle">Cation</text>
<text x="449" y="188.6" text-anchor="middle">Anion (BOB)</text>
<text x="533.8" y="173.2" text-anchor="middle">- 0.40</text>
<text x="532.9" y="188.6" text-anchor="middle">3.02</text>
</g>
<rect x="413.1" y="207.8" width="70.7" height="43.5" fill="#fff" stroke="#000" stroke-width="1.4"/>
<line x1="418" y1="218" x2="438" y2="218" stroke="#000" stroke-width="2.2"/>
<line x1="418" y1="229.8" x2="438" y2="229.8" stroke="#ff0000" stroke-width="2.2"/>
<line x1="418" y1="242.5" x2="438" y2="242.5" stroke="#0000ff" stroke-width="2.2"/>
<g font-family="'Liberation Sans', sans-serif" stroke="#111" stroke-width="0.2" fill="#111" font-size="11.6">
<text transform="translate(442.8 221.6) scale(0.94 1)">0 V</text>
<text transform="translate(442.8 233.8) scale(0.94 1)">+0.25 V</text>
<text transform="translate(442.8 246) scale(0.94 1)">-1 V</text>
</g>
</svg>
</body></html>
